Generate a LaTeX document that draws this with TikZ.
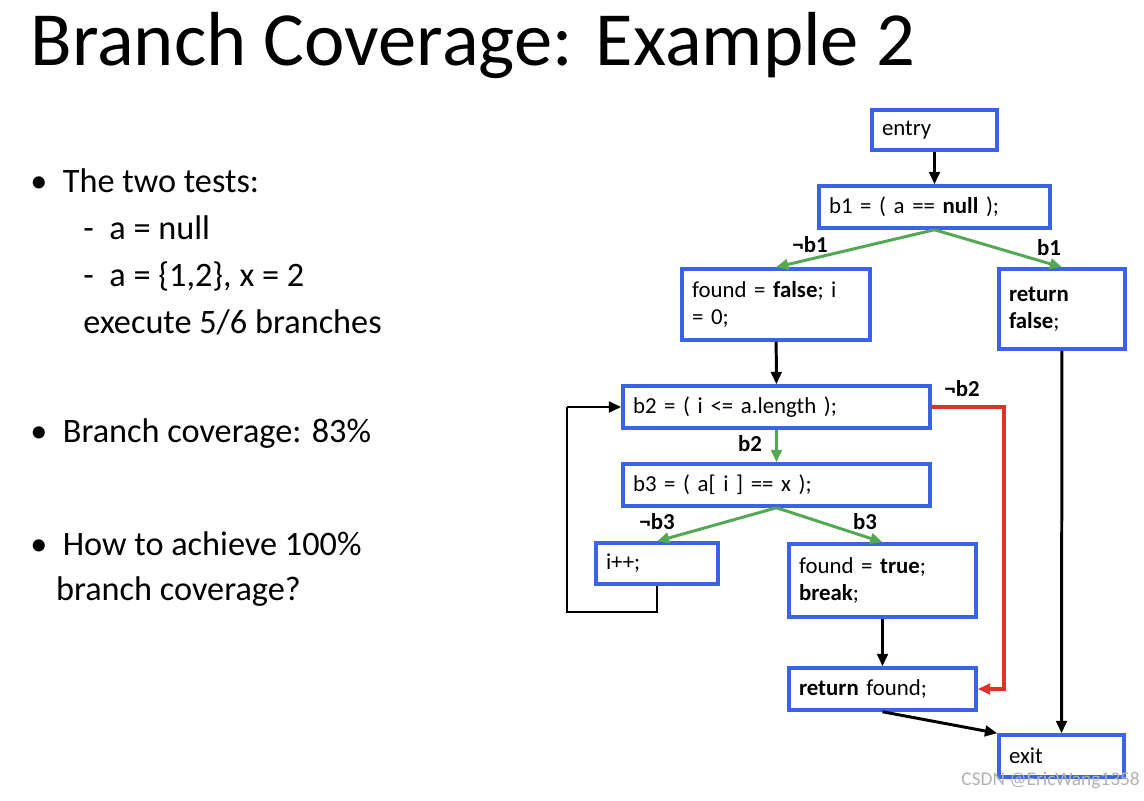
\documentclass[tikz,border=0pt]{standalone}
\usepackage{fontspec}
\setmainfont{Carlito}
\usetikzlibrary{arrows.meta}
\definecolor{boxblue}{RGB}{59,99,230}
\definecolor{yesgreen}{RGB}{84,168,84}
\definecolor{nored}{RGB}{222,52,40}
\newcommand{\cfgbox}{\node[box]}
\newcommand{\cfglabel}{\node[lbl]}
\tikzset{
  box/.style={draw=boxblue, line width=2pt, rectangle, align=left, inner sep=0pt,
    font=\fontsize{13}{15.5}\selectfont},
  lbl/.style={font=\fontsize{13}{15}\selectfont\bfseries, inner sep=0pt},
  flow/.style={line width=1.7pt, -{Triangle[length=7pt,width=6pt]}},
  yes/.style={flow, draw=yesgreen},
  no/.style={flow, draw=nored, line width=2pt}
}
\begin{document}
\begin{tikzpicture}[x=0.02cm, y=-0.02cm]
\useasboundingbox (0,0) rectangle (1144,801);
%title and bullets
\node[anchor=west, font=\fontsize{43.6}{48}\selectfont, inner sep=0pt] (title) at (30,45) {Branch Coverage: Example 2};
\node[anchor=north west, align=left, font=\fontsize{19.5}{26}\selectfont, inner sep=0pt] (tests) at (30,168)
  {\textbullet\ \ The two tests:\\[0.8pt]
   \hspace{1.55em}-\ \ a = null\\[0.8pt]
   \hspace{1.55em}-\ \ a = \{1,2\}, x = 2\\[0.8pt]
   \hspace{1.55em}execute 5/6 branches};
\node[anchor=west, font=\fontsize{19.5}{26}\selectfont, inner sep=0pt] (cov) at (30,434) {\textbullet\ \ Branch coverage: 83\%};
\node[anchor=north west, align=left, font=\fontsize{19.5}{26}\selectfont, inner sep=0pt] (how) at (30,531)
  {\textbullet\ \ How to achieve 100\%\\ \hspace{0.75em}branch coverage?};

%control flow graph
\cfgbox[minimum width=2.5cm, minimum height=0.8cm, text width=2.1cm] (entry) at (934.5,130) {entry};
\cfgbox[minimum width=4.62cm, minimum height=0.84cm, text width=4.22cm] (b1) at (934.5,207) {b1 = ( a == \textbf{null} );};
\cfgbox[minimum width=3.76cm, minimum height=1.42cm, text width=3.36cm] (init) at (776,304.5) {found = \textbf{false}; i\\ = 0;};
\cfgbox[minimum width=2.52cm, minimum height=1.6cm, text width=2.12cm] (retF) at (1062,309) {\textbf{return}\\ \textbf{false};};
\cfgbox[minimum width=6.14cm, minimum height=0.84cm, text width=5.74cm] (b2) at (776.5,407) {b2 = ( i <= a.length );};
\cfgbox[minimum width=6.14cm, minimum height=0.84cm, text width=5.74cm] (b3) at (776.5,485) {b3 = ( a[ i ] == x );};
\cfgbox[minimum width=2.44cm, minimum height=0.82cm, text width=2.04cm] (inc) at (657,563.5) {i++;};
\cfgbox[minimum width=3.74cm, minimum height=1.46cm, text width=3.34cm] (hit) at (882.5,580.5) {found = \textbf{true};\\ \textbf{break};};
\cfgbox[minimum width=3.74cm, minimum height=0.84cm, text width=3.34cm] (retFound) at (882.5,689) {\textbf{return} found;};
\cfgbox[minimum width=2.5cm, minimum height=0.84cm, text width=2.1cm] (exit) at (1061.5,756) {exit};

\coordinate (loopA) at (657,612);
\coordinate (loopB) at (567,612);
\coordinate (loopC) at (567,407);
\coordinate (redA) at (1004,407);
\coordinate (redB) at (1004,689);

\draw[flow] (entry) -- (b1);
\draw[yes] (b1.south) -- (init.north);
\draw[yes] (b1.south) -- (retF.north);
\draw[flow] (init) -- (b2);
\draw[yes] (b2) -- (b3);
\draw[yes] (b3.south) -- (inc.north);
\draw[yes] (b3.south) -- (hit.north);
\draw[flow, -] (inc.south) -- (loopA) -- (loopB) -- (loopC);
\draw[flow] (loopC) -- (b2.west);
\draw[no] (b2.east) -- (redA) -- (redB) -- (retFound.east);
\draw[flow] (hit) -- (retFound);
\draw[flow] (retFound.south) -- (exit.north west);
\draw[flow] (retF) -- (exit.north);

\cfglabel (nb1) at (810,245) {¬b1};
\cfglabel (yb1) at (1049,248) {b1};
\cfglabel (yb2) at (750,444) {b2};
\cfglabel (nb2) at (962,389) {¬b2};
\cfglabel (nb3) at (657,522) {¬b3};
\cfglabel (yb3) at (865,522) {b3};

\node[anchor=east, text=gray!60, font=\fontsize{11}{13}\selectfont, inner sep=0pt] (mark) at (1140,781) {CSDN @EricWang1358};
\end{tikzpicture}
\end{document}
